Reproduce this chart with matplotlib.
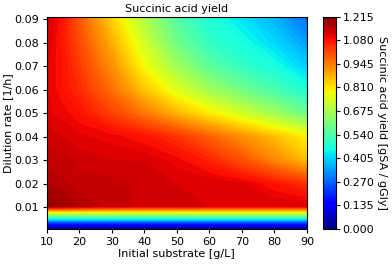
import matplotlib
matplotlib.use("Agg")
import matplotlib.pyplot as plt
import numpy as np

# initial substrate [g/L] and dilution rate [1/h] grid
substrate = [10, 15, 20, 30, 40, 50, 60, 70, 80, 90]
dilution = [0.0008, 0.004, 0.0075, 0.0105, 0.02, 0.03, 0.04, 0.05, 0.06, 0.07, 0.08, 0.091]

# succinic acid yield [gSA / gGly], one row per dilution rate
yield_sa = [
    [0.00, 0.00, 0.00, 0.00, 0.00, 0.00, 0.00, 0.00, 0.00, 0.00],
    [0.30, 0.30, 0.30, 0.30, 0.30, 0.30, 0.30, 0.30, 0.30, 0.30],
    [0.72, 0.72, 0.72, 0.72, 0.72, 0.72, 0.72, 0.72, 0.72, 0.72],
    [1.20, 1.18, 1.16, 1.14, 1.13, 1.13, 1.12, 1.12, 1.12, 1.12],
    [1.16, 1.15, 1.14, 1.14, 1.13, 1.12, 1.12, 1.11, 1.08, 1.04],
    [1.14, 1.14, 1.13, 1.12, 1.12, 1.10, 1.06, 1.00, 0.93, 0.86],
    [1.13, 1.12, 1.11, 1.10, 1.08, 1.04, 0.98, 0.92, 0.86, 0.79],
    [1.11, 1.10, 1.08, 1.02, 0.95, 0.87, 0.80, 0.73, 0.66, 0.58],
    [1.11, 1.08, 1.05, 0.96, 0.85, 0.75, 0.66, 0.59, 0.53, 0.47],
    [1.11, 1.08, 1.03, 0.92, 0.78, 0.66, 0.56, 0.50, 0.46, 0.40],
    [1.12, 1.07, 1.01, 0.88, 0.73, 0.59, 0.50, 0.46, 0.41, 0.34],
    [1.13, 1.08, 0.99, 0.83, 0.68, 0.54, 0.47, 0.42, 0.36, 0.28],
]

levels = np.linspace(0, 1.215, 91)
fs = 8

fig = plt.figure(figsize=(3.92, 2.64), dpi=100)
ax = fig.add_axes([0.119, 0.133, 0.664, 0.804])
cax = fig.add_axes([0.824, 0.133, 0.032, 0.804])

X, Y = np.meshgrid(substrate, dilution)
cs = ax.contourf(X, Y, np.array(yield_sa), levels=levels, cmap="jet")

ax.set_xticks([10, 20, 30, 40, 50, 60, 70, 80, 90])
ax.set_yticks([0.01, 0.02, 0.03, 0.04, 0.05, 0.06, 0.07, 0.08, 0.09])
ax.tick_params(labelsize=fs, length=3, pad=2.5)
ax.set_xlabel("Initial substrate [g/L]", fontsize=fs, labelpad=2)
ax.set_ylabel("Dilution rate [1/h]", fontsize=fs, labelpad=0.5)
ax.set_title("Succinic acid yield", fontsize=fs, pad=3)

cb = fig.colorbar(cs, cax=cax)
cb.ax.tick_params(labelsize=fs, length=3, pad=2)
cb.set_label("Succinic acid yield [gSA / gGly]", fontsize=fs, rotation=270, labelpad=9)

fig.savefig("out.png", dpi=100)
